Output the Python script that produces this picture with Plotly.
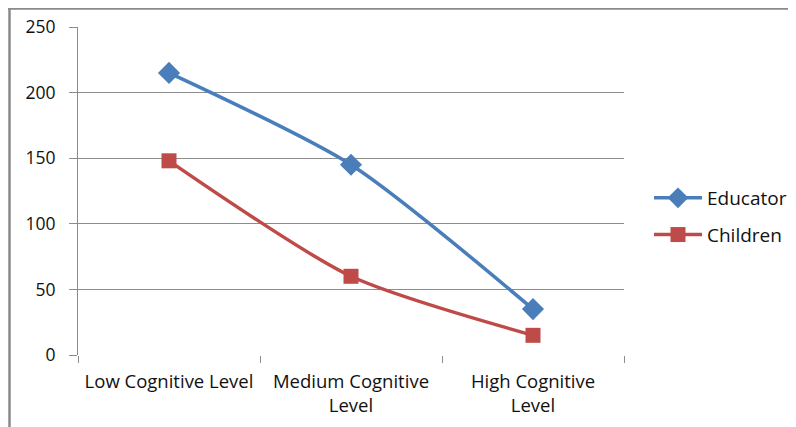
import plotly.graph_objects as go

categories = ["Low Cognitive Level", "Medium Cognitive<br>Level", "High Cognitive<br>Level"]
educator = [215, 145, 35]
children = [148, 60, 15]
y_ticks = [0, 50, 100, 150, 200, 250]

BLUE = "#4A7EBB"
RED = "#BE4B48"
GRID = "#8C8C8C"
FONT = "Open Sans"

# figure is placed with an 8px page offset; plot area in figure pixels
L, T, PW, PH = 70, 19, 546, 328
W, H = 788, 419

fig = go.Figure()
fig.add_trace(go.Scatter(
    x=categories, y=educator, name="Educator", mode="lines+markers",
    legendgroup="a",
    line=dict(color=BLUE, width=3.5, shape="spline", smoothing=0.7),
    marker=dict(symbol="diamond", size=17, color=BLUE),
))
fig.add_trace(go.Scatter(
    x=categories, y=children, name="Children", mode="lines+markers",
    legendgroup="b",
    line=dict(color=RED, width=3.5, shape="spline", smoothing=0.7),
    marker=dict(symbol="square", size=15, color=RED),
))


def px(x):
    return (x - L) / PW


def py(y):
    return (T + PH - y) / PH


fig.update_layout(
    width=W, height=H,
    margin=dict(l=L, r=W - L - PW, t=T, b=H - T - PH, autoexpand=False),
    paper_bgcolor="white", plot_bgcolor="white",
    font=dict(family=FONT, size=18, color="#111111"),
    showlegend=True,
    legend=dict(x=px(641), y=py(208.5), yanchor="middle", xanchor="left",
                font=dict(size=19, family=FONT), tracegroupgap=9,
                itemwidth=48),
    xaxis=dict(
        type="category", range=[-0.5, 2.5], showgrid=False, showline=False,
        zeroline=False, ticks="outside", tickson="boundaries", ticklen=7,
        tickcolor=GRID, ticklabelstandoff=13, tickangle=0,
        tickfont=dict(size=18.5),
    ),
    yaxis=dict(
        range=[0, 250], tickvals=y_ticks, showgrid=True, gridcolor=GRID,
        gridwidth=1, zeroline=False, showline=True, linecolor=GRID,
        linewidth=1, ticks="outside", ticklen=8, tickcolor=GRID,
        ticklabelstandoff=10, tickfont=dict(size=17.5),
    ),
    shapes=[
        dict(type="line", xref="paper", yref="paper",
             x0=px(1.5), x1=px(1.5), y0=py(0), y1=py(H + 10),
             line=dict(color="#8A8A8A", width=2.5)),
        dict(type="line", xref="paper", yref="paper",
             x0=px(0), x1=px(W + 10), y0=py(0.5), y1=py(0.5),
             line=dict(color="#8A8A8A", width=2.5)),
    ],
)

fig.write_html("out.html")
